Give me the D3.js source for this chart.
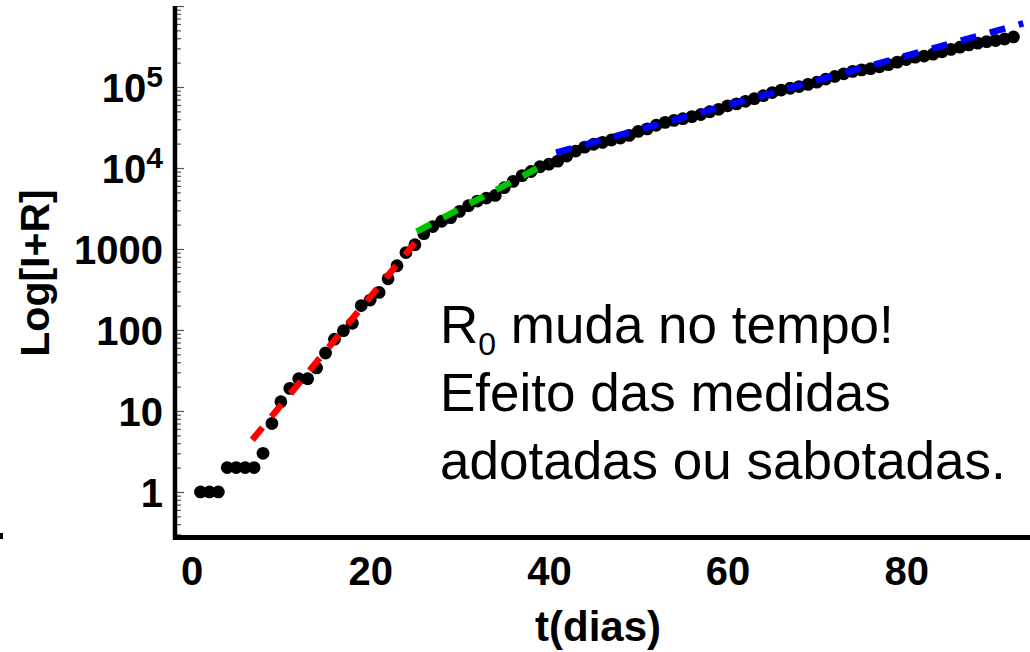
<!DOCTYPE html>
<html>
<head>
<meta charset="utf-8">
<script src="https://cdn.jsdelivr.net/npm/d3@7"></script>
<style>
  body { margin: 0; background: #fff; }
  svg { display: block; font-family: "Liberation Sans", Arial, sans-serif; }
</style>
</head>
<body>
<svg id="chart" width="1030" height="652"></svg>
<script>
// I+R acumulado, um valor por dia (dia 1 = primeiro caso)
const casos = [
  1, 1, 1, 2, 2, 2, 2, 3, 7, 13,
  19, 25, 25, 34, 52, 77, 98, 121, 200, 234,
  291, 428, 621, 904, 1128, 1546, 1891, 2201, 2433, 2915,
  3417, 3904, 4256, 4579, 5717, 6836, 8044, 9056, 10360, 11130,
  12161, 14034, 16170, 18092, 19638, 20727, 22169, 23430, 25262, 28320,
  30425, 33682, 36599, 38654, 40581, 43079, 45757, 49492, 52995, 58509,
  61888, 66501, 71886, 78162, 85380, 91589, 96559, 101147, 107780, 114715,
  125218, 135106, 145328, 155939, 162699, 168331, 177589, 188974, 202918, 218223,
  233142, 241080, 254220, 271628, 291579, 310087, 330890, 347398, 363211, 374898,
  391222, 415000
];

// ticks
const xTicks = [0, 20, 40, 60, 80];
const yTicks = [1, 10, 100, 1000, 1e4, 1e5];
const yTickBase = ["1", "10", "100", "1000", "10", "10"];
const yTickExp = ["", "", "", "", "4", "5"];

// retas de ajuste (inicio e fim em t e em I+R)
const ajusteT = [[6.8, 25.0], [25.2, 40.1], [40.8, 93.1]];
const ajusteV = [[4.4, 1190], [1637, 11970], [15500, 611000]];
const ajusteCor = ["#ff0000", "#00c300", "#0000ff"];

const texto = ["muda no tempo!", "Efeito das medidas", "adotadas ou sabotadas."];

const svg = d3.select("#chart");

const x = d3.scaleLinear().domain([-1.85, 93.85]).range([175, 1030]);
const y = d3.scaleLog().domain([0.278, 1e6]).range([537, 6]);

// pontos
svg.append("g")
  .selectAll("circle")
  .data(casos)
  .join("circle")
  .attr("cx", (d, i) => x(i + 1))
  .attr("cy", d => y(d))
  .attr("r", 6.4)
  .attr("fill", "#000");

// retas tracejadas
const linha = d3.line().x(d => x(d[0])).y(d => y(d[1]));
ajusteT.forEach((t, k) => {
  svg.append("path")
    .attr("d", linha([[t[0], ajusteV[k][0]], [t[1], ajusteV[k][1]]]))
    .attr("fill", "none")
    .attr("stroke", ajusteCor[k])
    .attr("stroke-width", 6.5)
    .attr("stroke-dasharray", "16 14");
});

// eixo y: ticks para dentro
const major = y.ticks().filter(v => Math.abs(Math.log10(v) - Math.round(Math.log10(v))) < 1e-9);
const minor = y.ticks().filter(v => !major.includes(v));
const gMinor = svg.append("g").attr("transform", "translate(177,0)")
  .call(d3.axisRight(y).tickValues(minor).tickSize(4).tickFormat(""));
const gMajor = svg.append("g").attr("transform", "translate(177,0)")
  .call(d3.axisRight(y).tickValues(major).tickSize(7).tickFormat(""));
[gMinor, gMajor].forEach(g => {
  g.select(".domain").remove();
  g.selectAll("line").attr("stroke", "#555").attr("stroke-width", 1.2);
});

// rotulos do eixo y
const lab = svg.append("g")
  .selectAll("text")
  .data(yTicks)
  .join("text")
  .attr("x", 163)
  .attr("y", d => y(d) + 15)
  .attr("text-anchor", "end")
  .attr("font-weight", "bold")
  .attr("font-size", 40);
lab.append("tspan").text((d, i) => yTickBase[i]);
lab.append("tspan")
  .attr("font-size", 30)
  .attr("dy", -15)
  .text((d, i) => yTickExp[i]);

// eixo x
const gx = svg.append("g").attr("transform", "translate(0,537)")
  .call(d3.axisBottom(x).tickValues(xTicks).tickSize(0).tickPadding(20));
gx.select(".domain").remove();
gx.selectAll("text")
  .attr("font-family", "Liberation Sans, Arial, sans-serif")
  .attr("font-weight", "bold")
  .attr("font-size", 40)
  .attr("fill", "#000");

// linhas dos eixos
svg.append("line").attr("x1", 175).attr("x2", 175).attr("y1", 6).attr("y2", 540)
  .attr("stroke", "#000").attr("stroke-width", 4.5);
svg.append("line").attr("x1", 173).attr("x2", 1030).attr("y1", 537.5).attr("y2", 537.5)
  .attr("stroke", "#000").attr("stroke-width", 5);

// titulos dos eixos
svg.append("text")
  .attr("x", 598).attr("y", 641)
  .attr("text-anchor", "middle")
  .attr("font-weight", "bold").attr("font-size", 42)
  .text("t(dias)");
svg.append("text")
  .attr("transform", "translate(49,273) rotate(-90)")
  .attr("text-anchor", "middle")
  .attr("font-weight", "bold").attr("font-size", 41)
  .text("Log[I+R]");

// anotacao
const nota = svg.append("g").attr("font-size", 53).attr("fill", "#000");
const l1 = nota.append("text").attr("x", 440).attr("y", 343);
l1.append("tspan").text("R");
l1.append("tspan").attr("font-size", 32).attr("dy", 12).text("0");
l1.append("tspan").attr("dy", -12).text(" " + texto[0]);
nota.append("text").attr("x", 440).attr("y", 411).text(texto[1]);
nota.append("text").attr("x", 440).attr("y", 479).text(texto[2]);

// marca solta na borda esquerda
svg.append("rect").attr("x", 0).attr("y", 533).attr("width", 3).attr("height", 6).attr("fill", "#000");
</script>
</body>
</html>
